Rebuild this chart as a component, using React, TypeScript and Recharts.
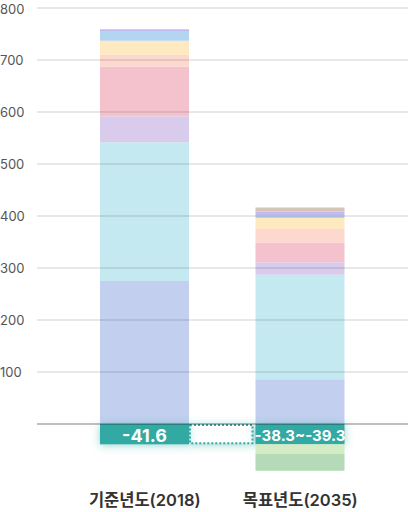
import React from 'react';
import { BarChart, Bar, XAxis, YAxis, ReferenceLine } from 'recharts';

const categories = ['기준년도(2018)', '목표년도(2035)'];
const blueSeg = [275, 86];
const cyanSeg = [267, 201];
const lavenderSeg = [50, 24];
const pinkSeg = [95, 38];
const salmonSeg = [23, 26];
const yellowSeg = [27, 21];
const lightBlueSeg = [19, 6];
const purpleSeg = [3, 6.5];
const brownSeg = [0, 7.7];
const tealSeg = [-39, -39];
const lightGreenSeg = [0, -18.7];
const greenSeg = [0, -32];
const tealLabels = ['-41.6', '-38.3~-39.3'];
const yTicks = [100, 200, 300, 400, 500, 600, 700, 800];

const data = categories.map((name, i) => ({
  name,
  blue: blueSeg[i],
  cyan: cyanSeg[i],
  lavender: lavenderSeg[i],
  pink: pinkSeg[i],
  salmon: salmonSeg[i],
  yellow: yellowSeg[i],
  lightBlue: lightBlueSeg[i],
  purple: purpleSeg[i],
  brown: brownSeg[i],
  teal: tealSeg[i],
  lightGreen: lightGreenSeg[i],
  green: greenSeg[i],
  label: tealLabels[i],
}));

const CHART_W = 408;
const CHART_H = 512;
const Y_AXIS_W = 37;
const X_PAD = 30;
const BAR_SIZE = 89;
const BAND = (CHART_W - Y_AXIS_W - 2 * X_PAD) / categories.length;
const GAP = BAND - BAR_SIZE;
const TEAL = '#30a9a3';
const FONT = "Inter, 'Noto Sans CJK KR', sans-serif";

const TealShape = (props: any) => {
  const { x, y, width, height, index, payload } = props;
  const top = Math.min(y, y + height);
  const h = Math.abs(height);
  const fid = `glow-${index}`;
  const isFirst = index === 0;
  return (
    <g>
      <defs>
        <filter id={fid} x="-40%" y="-80%" width="180%" height="260%">
          <feDropShadow dx="0" dy="1" stdDeviation="4" floodColor={TEAL} floodOpacity="0.5" />
        </filter>
      </defs>
      {isFirst && (
        <rect
          x={x + width + 1}
          y={top + 1}
          width={GAP - 4}
          height={h - 2}
          fill="#ffffff"
          stroke={TEAL}
          strokeWidth={2}
          strokeDasharray="2 2"
          filter={`url(#${fid})`}
        />
      )}
      <rect x={x} y={top} width={width} height={h} fill={TEAL} filter={`url(#${fid})`} />
      <text
        x={x + width / 2}
        y={top + h / 2 + 1}
        textAnchor="middle"
        dominantBaseline="central"
        fill="#ffffff"
        fontFamily={FONT}
        fontWeight={700}
        fontSize={isFirst ? 18 : 15}
      >
        {payload && payload.label}
      </text>
    </g>
  );
};

const YTick = (props: any) => {
  const { y, payload } = props;
  return (
    <text x={0} y={y} dominantBaseline="central" textAnchor="start" fill="#555" fontFamily={FONT} fontSize={13}>
      {payload.value}
    </text>
  );
};

const XTick = (props: any) => {
  const { x, payload } = props;
  return (
    <text x={x} y={506} textAnchor="middle" fill="#333" fontFamily={FONT} fontSize={16.5} fontWeight={600}>
      {payload.value}
    </text>
  );
};

export default function App() {
  return (
    <div style={{ position: 'absolute', left: 0, top: 0, width: CHART_W, height: CHART_H, background: '#fff' }}>
      <BarChart
        width={CHART_W}
        height={CHART_H}
        data={data}
        stackOffset="sign"
        margin={{ top: 8, right: 0, bottom: 0, left: 0 }}
        barSize={BAR_SIZE}
      >
        <XAxis
          dataKey="name"
          axisLine={false}
          tickLine={false}
          height={36}
          padding={{ left: X_PAD, right: X_PAD }}
          tick={<XTick />}
          interval={0}
        />
        <YAxis
          width={Y_AXIS_W}
          domain={[-100, 800]}
          ticks={yTicks}
          axisLine={false}
          tickLine={false}
          tick={<YTick />}
          allowDataOverflow
        />
        <Bar dataKey="blue" stackId="a" fill="#c3cfee" isAnimationActive={false} />
        <Bar dataKey="cyan" stackId="a" fill="#c4e9f0" isAnimationActive={false} />
        <Bar dataKey="lavender" stackId="a" fill="#d8cbec" isAnimationActive={false} />
        <Bar dataKey="pink" stackId="a" fill="#f4c2cc" isAnimationActive={false} />
        <Bar dataKey="salmon" stackId="a" fill="#fdd8ce" isAnimationActive={false} />
        <Bar dataKey="yellow" stackId="a" fill="#fee9c1" isAnimationActive={false} />
        <Bar dataKey="lightBlue" stackId="a" fill="#b4d5f2" isAnimationActive={false} />
        <Bar dataKey="purple" stackId="a" fill="#c2b9f0" isAnimationActive={false} />
        <Bar dataKey="brown" stackId="a" fill="#d6c4b8" isAnimationActive={false} />
        <Bar dataKey="teal" stackId="a" fill={TEAL} shape={<TealShape />} isAnimationActive={false} />
        <Bar dataKey="lightGreen" stackId="a" fill="#d3ecc6" isAnimationActive={false} />
        <Bar dataKey="green" stackId="a" fill="#b4dab8" isAnimationActive={false} />
        {yTicks.map((t) => (
          <ReferenceLine key={t} y={t} stroke="rgba(0,0,0,0.09)" strokeWidth={2} />
        ))}
        <ReferenceLine y={0} stroke="rgba(0,0,0,0.33)" strokeWidth={1.5} />
      </BarChart>
    </div>
  );
}
